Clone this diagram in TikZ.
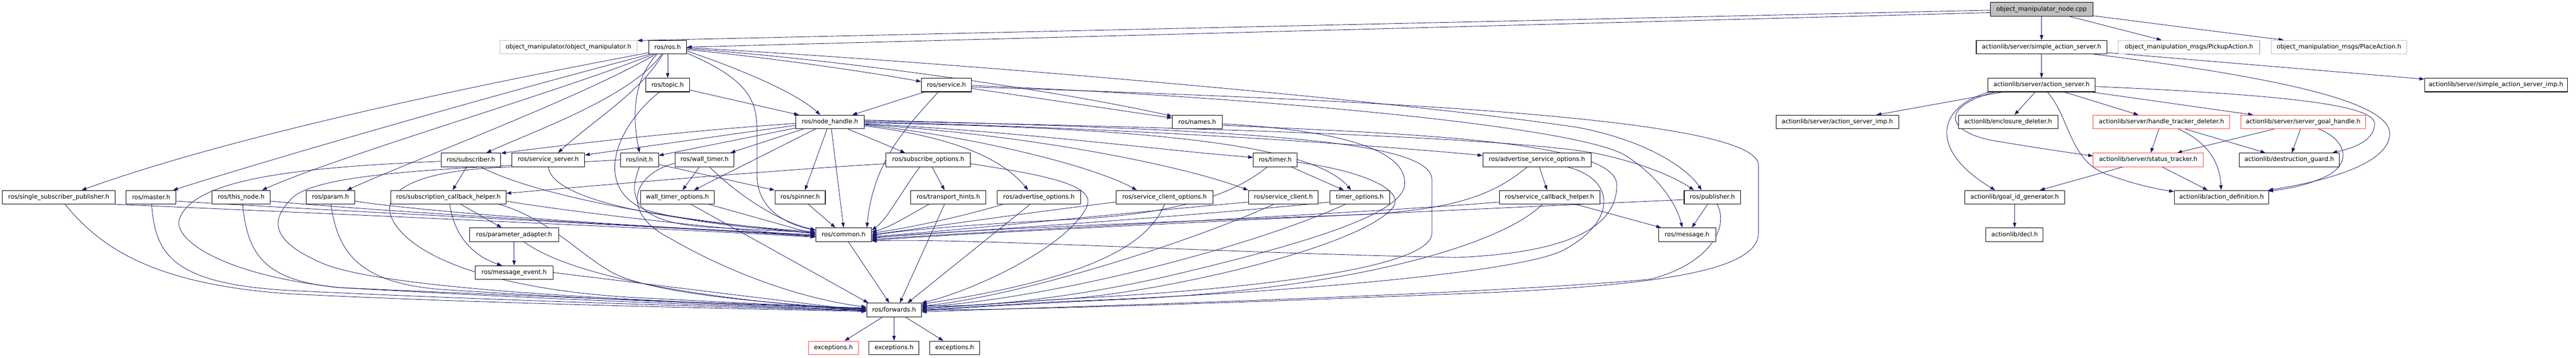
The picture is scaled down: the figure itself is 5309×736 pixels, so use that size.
\documentclass[tikz,border=0pt]{standalone}
\usepackage{fontspec}
\setmainfont{DejaVu Sans}
\usetikzlibrary{arrows.meta,calc}
\pgfdeclarelayer{edges}
\pgfsetlayers{edges,main}
\definecolor{edgec}{HTML}{191970}
\definecolor{redc}{HTML}{FF4040}
\definecolor{grayc}{HTML}{BFBFBF}
\tikzset{
  nb/.style={draw=black, line width=1.1pt, fill=white, minimum height=28pt, inner sep=0pt, font=\fontsize{12.6}{15}\selectfont},
  nred/.style={nb, draw=redc},
  ngray/.style={nb, draw=grayc},
  ncur/.style={nb, fill=grayc},
  dep/.style={draw=edgec, line width=0.9pt, -{Triangle[length=10pt,width=7pt]}}
}
\begin{document}
\begin{tikzpicture}[x=1pt,y=-1pt]
\useasboundingbox (0,0) rectangle (5309,736);
% row 0
\node[ncur, minimum width=211pt] (cpp) at (4207.5,19) {object\_manipulator\_node.cpp};
% row 1
\node[ngray, minimum width=283pt] (objmanip) at (1171.5,97) {object\_manipulator/object\_manipulator.h};
\node[nb, minimum width=78pt] (ros) at (1376,97) {ros/ros.h};
\node[nb, minimum width=269pt] (sas) at (4207.5,97) {actionlib/server/simple\_action\_server.h};
\node[ngray, minimum width=291pt] (pickup) at (4511.5,97) {object\_manipulation\_msgs/PickupAction.h};
\node[ngray, minimum width=279pt] (place) at (4820.5,97) {object\_manipulation\_msgs/PlaceAction.h};
% row 2
\node[nb, minimum width=90pt] (topic) at (1376,175) {ros/topic.h};
\node[nb, minimum width=103pt] (service) at (1950.5,175) {ros/service.h};
\node[nb, minimum width=221pt] (as) at (4207.5,175) {actionlib/server/action\_server.h};
\node[nb, minimum width=294pt] (sasimp) at (5144,175) {actionlib/server/simple\_action\_server\_imp.h};
% row 3
\node[nb, minimum width=141pt] (nh) at (1710.5,251) {ros/node\_handle.h};
\node[nb, minimum width=103pt] (names) at (2467.5,251) {ros/names.h};
\node[nb, minimum width=253pt] (asimp) at (3786.5,251) {actionlib/server/action\_server\_imp.h};
\node[nb, minimum width=205pt] (encl) at (4138.5,251) {actionlib/enclosure\_deleter.h};
\node[nred, minimum width=281pt] (htd) at (4454.5,251) {actionlib/server/handle\_tracker\_deleter.h};
\node[nred, minimum width=257pt] (sgh) at (4746.5,251) {actionlib/server/server\_goal\_handle.h};
% row 4
\node[nb, minimum width=123pt] (subscriber) at (970.5,329) {ros/subscriber.h};
\node[nb, minimum width=150pt] (sserver) at (1130,329) {ros/service\_server.h};
\node[nb, minimum width=78pt] (init) at (1318,329) {ros/init.h};
\node[nb, minimum width=122pt] (walltimer) at (1452,329) {ros/wall\_timer.h};
\node[nb, minimum width=174pt] (subopts) at (1913,329) {ros/subscribe\_options.h};
\node[nb, minimum width=90pt] (timer) at (2628,329) {ros/timer.h};
\node[nb, minimum width=223pt] (aso) at (3167.5,329) {ros/advertise\_service\_options.h};
\node[nred, minimum width=227pt] (st) at (4427.5,329) {actionlib/server/status\_tracker.h};
\node[nb, minimum width=206pt] (dg) at (4718,329) {actionlib/destruction\_guard.h};
% row 5
\node[nb, minimum width=232pt] (ssp) at (121,406) {ros/single\_subscriber\_publisher.h};
\node[nb, minimum width=103pt] (master) at (311.5,406) {ros/master.h};
\node[nb, minimum width=120pt] (thisnode) at (497,406) {ros/this\_node.h};
\node[nb, minimum width=100pt] (param) at (681,406) {ros/param.h};
\node[nb, minimum width=238pt] (sch) at (924,406) {ros/subscription\_callback\_helper.h};
\node[nb, minimum width=152pt] (wto) at (1396,406) {wall\_timer\_options.h};
\node[nb, minimum width=104pt] (spinner) at (1649,406) {ros/spinner.h};
\node[nb, minimum width=155pt] (th) at (1954.5,406) {ros/transport\_hints.h};
\node[nb, minimum width=172pt] (ao) at (2141,406) {ros/advertise\_options.h};
\node[nb, minimum width=200pt] (sco) at (2400,406) {ros/service\_client\_options.h};
\node[nb, minimum width=144pt] (sc) at (2645,406) {ros/service\_client.h};
\node[nb, minimum width=123pt] (to) at (2802.5,406) {timer\_options.h};
\node[nb, minimum width=207pt] (scbh) at (3193.5,406) {ros/service\_callback\_helper.h};
\node[nb, minimum width=116pt] (pub) at (3529,406) {ros/publisher.h};
\node[nb, minimum width=206pt] (gid) at (4152,406) {actionlib/goal\_id\_generator.h};
\node[nb, minimum width=195pt] (ad) at (4578.5,406) {actionlib/action\_definition.h};
% row 6
\node[nb, minimum width=183pt] (pa) at (1059.5,483) {ros/parameter\_adapter.h};
\node[nb, minimum width=115pt] (common) at (1738.5,483) {ros/common.h};
\node[nb, minimum width=118pt] (msg) at (3477,483) {ros/message.h};
\node[nb, minimum width=118pt] (decl) at (4152,483) {actionlib/decl.h};
% row 7
\node[nb, minimum width=161pt] (me) at (1059.5,561) {ros/message\_event.h};
% row 8
\node[nb, minimum width=113pt] (fwd) at (1842.5,638) {ros/forwards.h};
% row 9
\node[nred, minimum width=103pt] (ex1) at (1717.5,716) {exceptions.h};
\node[nb, minimum width=103pt] (ex2) at (1842.5,716) {exceptions.h};
\node[nb, minimum width=103pt] (ex3) at (1967.5,716) {exceptions.h};

\begin{pgfonlayer}{edges}
\fill[white] (0,0) rectangle (5309,736);
% ---------- actionlib edges
\draw[dep] (cpp) -- (sas);
\draw[dep] (cpp) -- (pickup);
\draw[dep] (cpp) -- (place);
\draw[dep] (sas) -- (as);
\draw[dep] (sas) -- (sasimp);
\draw[dep] ($(sas.south east)+(-27,0)$) .. controls (4700,160) and (4925,210) .. (4925,275) .. controls (4925,340) and (4780,375) .. ($(ad.north east)+(-2,0)$);
\draw[dep] (as) -- (asimp);
\draw[dep] (as) -- (encl);
\draw[dep] ($(as.south west)+(3,0)$) .. controls (3990,220) and (3975,310) .. ($(gid.north)+(-40,0)$);
\draw[dep] ($(as.south west)+(15,0)$) .. controls (4010,215) and (4000,265) .. (4100,288) .. controls (4200,305) and (4270,315) .. ($(st.west)+(0,-8)$);
\draw[dep] (as) -- (htd);
\draw[dep] (as) -- (sgh);
\draw[dep] ($(as.south)+(12,0)$) .. controls (4265,240) and (4265,330) .. (4340,358) .. controls (4400,380) and (4440,388) .. ($(ad.north west)+(0,3)$);
\draw[dep] ($(as.east)+(0,3)$) .. controls (4700,195) and (4895,215) .. (4894,255) .. controls (4893,290) and (4850,305) .. ($(dg.north east)+(-15,0)$);
\draw[dep] (htd) -- (st);
\draw[dep] ($(htd.south)+(35,0)$) .. controls (4545,290) and (4575,330) .. ($(ad.north)+(-1,0)$);
\draw[dep] (htd) -- (dg);
\draw[dep] (sgh) -- (st);
\draw[dep] (sgh) -- (dg);
\draw[dep] ($(sgh.south)+(32,0)$) .. controls (4830,285) and (4850,330) .. (4800,360) .. controls (4760,380) and (4720,388) .. ($(ad.north east)+(-2,2)$);
\draw[dep] (st) -- (gid);
\draw[dep] (st) -- (ad);
\draw[dep] (gid) -- (decl);

% ---------- ros.h and top
\draw[dep] ($(cpp.west)+(0,2)$) -- ($(objmanip.north east)+(0,1)$);
\draw[dep] ($(cpp.west)+(0,7)$) -- (ros.east);
\draw[dep] ($(ros.south west)+(0,-3)$) .. controls (900,190) and (450,290) .. ($(ssp.north)+(47,0)$);
\draw[dep] ($(ros.south west)+(3,0)$) .. controls (1000,200) and (550,330) .. ($(master.north)+(45,0)$);
\draw[dep] ($(ros.south west)+(10,0)$) .. controls (1150,190) and (700,320) .. ($(thisnode.north)+(43,0)$);
\draw[dep] ($(ros.south west)+(15,0)$) .. controls (1200,200) and (850,330) .. ($(param.north)+(34,0)$);
\draw[dep] ($(ros.south)+(-12,0)$) .. controls (1300,200) and (1100,270) .. ($(subscriber.north)+(32,0)$);
\draw[dep] ($(ros.south)+(-10,0)$) .. controls (1320,190) and (1220,250) .. ($(sserver.north)+(20,0)$);
\draw[dep] (ros) -- (topic);
\draw[dep] ($(ros.south)+(-22,0)$) .. controls (1300,170) and (1305,250) .. (init.north);
\draw[dep] ($(ros.south east)+(0,-2)$) .. controls (1560,170) and (1560,220) .. (1560,280) -- (1560,360) .. controls (1560,430) and (1620,462) .. ($(common.west)+(0,-9)$);
\draw[dep] ($(ros.east)+(0,8)$) .. controls (1520,140) and (1640,190) .. ($(nh.north)+(-20,0)$);
\draw[dep] ($(ros.east)+(0,5)$) .. controls (1600,120) and (1800,150) .. ($(service.west)+(0,-7)$);
\draw[dep] ($(ros.east)+(0,3)$) .. controls (1700,120) and (2150,180) .. ($(names.west)+(0,-12)$);
\draw[dep] ($(ros.east)+(0,1)$) .. controls (2000,130) and (2900,210) .. (3250,262) .. controls (3400,290) and (3480,350) .. ($(pub.north)+(-22,0)$);

% ---------- service.h
\draw[dep] (service) -- (nh);
\draw[dep] ($(service.south)+(-17,0)$) .. controls (1870,260) and (1800,330) .. ($(common.north east)+(-10,0)$);
\draw[dep] ($(service.east)+(0,7)$) -- ($(names.west)+(0,-8)$);
\draw[dep] ($(service.east)+(0,1)$) .. controls (2600,200) and (3250,260) .. (3350,320) .. controls (3420,365) and (3455,420) .. ($(msg.north)+(-10,0)$);
\draw[dep] ($(service.east)+(0,4)$) .. controls (2800,205) and (3624,240) .. (3624,340) -- (3624,480) .. controls (3624,560) and (3400,590) .. (3000,605) .. controls (2500,625) and (2100,638) .. (fwd.east);

% ---------- names.h
\draw[dep] ($(names.east)+(0,4)$) .. controls (2800,270) and (2900,320) .. (2895,380) .. controls (2890,440) and (2700,500) .. (2400,570) .. controls (2200,615) and (2000,635) .. ($(fwd.east)+(0,-10)$);
\draw[dep] ($(names.east)+(0,7)$) .. controls (2900,275) and (3330,290) .. (3332,380) .. controls (3333,460) and (3250,520) .. (3000,530) .. controls (2500,520) and (2000,490) .. ($(common.east)+(0,13)$);

% ---------- node_handle.h
\draw[dep] ($(nh.west)+(0,3)$) .. controls (1400,270) and (1150,300) .. ($(subscriber.north east)+(0,1)$);
\draw[dep] ($(nh.west)+(0,7)$) -- ($(sserver.east)+(0,-10)$);
\draw[dep] ($(nh.south west)+(0,-2)$) -- ($(init.east)+(0,-9)$);
\draw[dep] ($(nh.south)+(-55,0)$) -- ($(walltimer.north east)+(-8,0)$);
\draw[dep] ($(nh.south)+(-30,0)$) -- ($(wto.north)+(34,0)$);
\draw[dep] ($(nh.south)+(-6,0)$) -- ($(spinner.north)+(10,0)$);
\draw[dep] ($(nh.south)+(3,0)$) -- (common.north);
\draw[dep] ($(nh.south east)+(-34,0)$) -- ($(subopts.north west)+(40,0)$);
\draw[dep] ($(nh.east)+(0,8)$) .. controls (1950,280) and (2060,320) .. ($(ao.north)+(-22,0)$);
\draw[dep] ($(nh.east)+(0,6)$) .. controls (2000,280) and (2250,340) .. ($(sco.north)+(-57,0)$);
\draw[dep] ($(nh.east)+(0,4)$) .. controls (2100,270) and (2400,310) .. ($(timer.west)+(0,-5)$);
\draw[dep] ($(nh.east)+(0,5)$) .. controls (2150,280) and (2450,345) .. (sc.north west);
\draw[dep] ($(nh.east)+(0,2)$) .. controls (2300,262) and (2700,290) .. ($(to.north)+(-18,0)$);
\draw[dep] (nh.east) .. controls (2400,265) and (2900,305) .. ($(aso.west)+(0,-9)$);
\draw[dep] ($(nh.east)+(0,-2)$) .. controls (2500,262) and (3150,285) .. (3300,318) .. controls (3400,340) and (3460,370) .. ($(pub.north)+(-38,0)$);
\draw[dep] ($(nh.east)+(0,-4)$) .. controls (2600,268) and (2951,290) .. (2951,370) -- (2951,480) .. controls (2951,560) and (2500,600) .. (2200,615) .. controls (2050,625) and (1950,632) .. ($(fwd.east)+(0,-2)$);

% ---------- left-side headers
\draw[dep] (subscriber) -- (sch);
\draw[dep] ($(subscriber.south)+(20,0)$) .. controls (1080,390) and (1300,445) .. ($(common.west)+(0,-3)$);
\draw[dep] ($(subscriber.west)+(0,3)$) .. controls (600,345) and (400,370) .. (370,450) .. controls (355,490) and (450,565) .. (700,592) .. controls (1200,615) and (1600,628) .. ($(fwd.west)+(0,-4)$);
\draw[dep] (sserver.south) .. controls (1140,430) and (1500,465) .. ($(common.west)+(0,-6)$);
\draw[dep] ($(sserver.south west)+(5,0)$) .. controls (800,350) and (760,420) .. (840,490) .. controls (920,560) and (1100,600) .. (1300,612) .. controls (1550,625) and (1700,632) .. ($(fwd.west)+(0,-3)$);
\draw[dep] ($(init.south east)+(0,-5)$) -- (spinner.north west);
\draw[dep] (init.south) .. controls (1295,400) and (1300,455) .. (1450,467) .. controls (1550,473) and (1630,476) .. ($(common.west)+(0,-4)$);
\draw[dep] (init.west) .. controls (1000,345) and (650,350) .. (600,410) .. controls (550,460) and (570,500) .. (660,540) .. controls (800,605) and (1500,625) .. ($(fwd.west)+(0,-2)$);
\draw[dep] (walltimer) -- (wto);
\draw[dep] ($(walltimer.south)+(10,0)$) .. controls (1520,400) and (1600,455) .. ($(common.west)+(0,-10)$);
\draw[dep] ($(walltimer.west)+(0,7)$) .. controls (1300,360) and (1280,440) .. (1380,490) .. controls (1500,560) and (1650,615) .. ($(fwd.west)+(0,-6)$);
\draw[dep] ($(wto.south east)+(-12,0)$) -- ($(common.west)+(0,-1)$);
\draw[dep] ($(wto.south)+(28,0)$) -- ($(fwd.north west)+(4,0)$);
\draw[dep] (spinner) -- (common);
\draw[dep] (common) -- (fwd);
\draw[dep] (fwd) -- (ex1);
\draw[dep] (fwd) -- (ex2);
\draw[dep] (fwd) -- (ex3);
\draw[dep] (topic) -- (nh);
\draw[dep] ($(topic.south)+(-17,0)$) .. controls (1270,260) and (1220,385) .. (1330,432) .. controls (1450,465) and (1600,472) .. ($(common.west)+(0,-2)$);
\draw[dep] (sch) -- (pa);
\draw[dep] ($(sch.south)+(3,0)$) .. controls (935,480) and (970,525) .. ($(me.north)+(-25,0)$);
\draw[dep] ($(sch.east)+(0,8)$) .. controls (1200,440) and (1500,472) .. ($(common.west)+(0,3)$);
\draw[dep] ($(sch.south east)+(-15,0)$) .. controls (1130,450) and (1190,520) .. (1260,560) .. controls (1350,610) and (1650,628) .. ($(fwd.west)+(0,-1)$);
\draw[dep] (pa) -- (me);
\draw[dep] ($(pa.south)+(20,0)$) .. controls (1150,550) and (1350,610) .. ($(fwd.west)+(0,1)$);
\draw[dep] (me.east) -- ($(fwd.west)+(0,2)$);
\draw[dep] (ssp.south east) .. controls (800,445) and (1400,472) .. ($(common.west)+(0,5)$);
\draw[dep] ($(ssp.south)+(13,0)$) .. controls (200,500) and (300,585) .. (600,605) .. controls (1000,625) and (1500,635) .. ($(fwd.west)+(0,3)$);
\draw[dep] ($(master.east)+(0,8)$) .. controls (700,435) and (1400,468) .. ($(common.west)+(0,4)$);
\draw[dep] ($(master.south)+(1,0)$) .. controls (320,520) and (350,585) .. (600,598) .. controls (1000,618) and (1500,632) .. ($(fwd.west)+(0,2)$);
\draw[dep] ($(thisnode.east)+(0,8)$) .. controls (800,437) and (1400,470) .. ($(common.west)+(0,2)$);
\draw[dep] ($(thisnode.south)+(3,0)$) .. controls (510,520) and (540,578) .. (700,592) .. controls (1100,615) and (1500,630) .. ($(fwd.west)+(0,1)$);
\draw[dep] ($(param.east)+(0,8)$) .. controls (900,440) and (1400,472) .. (common.west);
\draw[dep] ($(param.south)+(1,0)$) .. controls (696,520) and (740,580) .. (900,595) .. controls (1200,615) and (1550,630) .. (fwd.west);

% ---------- right-side ros headers
\draw[dep] (subopts) -- (th);
\draw[dep] ($(subopts.west)+(0,8)$) .. controls (1600,350) and (1250,380) .. ($(sch.east)+(0,-8)$);
\draw[dep] ($(subopts.south)+(-17,0)$) .. controls (1860,390) and (1830,450) .. ($(common.east)+(0,-9)$);
\draw[dep] ($(subopts.east)+(0,8)$) .. controls (2150,360) and (2260,380) .. (2240,425) .. controls (2200,510) and (2000,600) .. (fwd.north east);
\draw[dep] ($(th.south)+(-40,0)$) .. controls (1870,445) and (1830,470) .. ($(common.east)+(0,-6)$);
\draw[dep] ($(th.south)+(-8,0)$) -- ($(fwd.north)+(12,0)$);
\draw[dep] ($(ao.south west)+(13,0)$) .. controls (1950,455) and (1850,472) .. ($(common.east)+(0,-3)$);
\draw[dep] ($(ao.south)+(-18,0)$) -- ($(fwd.north)+(28,0)$);
\draw[dep] ($(sco.west)+(0,10)$) .. controls (2100,440) and (1900,470) .. (common.east);
\draw[dep] (sco.south) .. controls (2360,520) and (2200,580) .. ($(fwd.east)+(0,-12)$);
\draw[dep] (timer) -- (to);
\draw[dep] ($(timer.south)+(-16,0)$) .. controls (2530,410) and (2400,442) .. (2200,452) .. controls (2000,462) and (1850,475) .. ($(common.east)+(0,2)$);
\draw[dep] ($(timer.east)+(0,5)$) .. controls (2800,350) and (2900,390) .. (2870,428) .. controls (2800,510) and (2400,600) .. (2200,615) .. controls (2050,625) and (1950,632) .. ($(fwd.east)+(0,-4)$);
\draw[dep] ($(sc.west)+(0,10)$) .. controls (2300,440) and (2000,472) .. ($(common.east)+(0,4)$);
\draw[dep] ($(sc.south)+(-20,0)$) .. controls (2450,500) and (2100,610) .. ($(fwd.east)+(0,-8)$);
\draw[dep] ($(to.west)+(0,10)$) .. controls (2400,450) and (2000,475) .. ($(common.east)+(0,6)$);
\draw[dep] ($(to.south)+(-30,0)$) .. controls (2600,500) and (2200,610) .. ($(fwd.east)+(0,-6)$);
\draw[dep] (aso) -- (scbh);
\draw[dep] ($(aso.south)+(-20,0)$) .. controls (3080,400) and (3000,432) .. (2800,442) .. controls (2300,460) and (1900,477) .. ($(common.east)+(0,8)$);
\draw[dep] ($(aso.south)+(62,0)$) .. controls (3335,370) and (3330,460) .. (3218,517) .. controls (3100,570) and (2500,610) .. (2200,620) .. controls (2050,628) and (1950,635) .. (fwd.east);
\draw[dep] (scbh) -- (msg);
\draw[dep] ($(scbh.west)+(0,10)$) .. controls (2800,440) and (2000,477) .. ($(common.east)+(0,10)$);
\draw[dep] ($(scbh.south)+(-15,0)$) .. controls (3100,500) and (2800,595) .. (2300,617) .. controls (2100,626) and (1980,634) .. ($(fwd.east)+(0,2)$);
\draw[dep] (pub) -- (msg);
\draw[dep] ($(pub.west)+(0,5)$) .. controls (3000,432) and (2000,478) .. ($(common.east)+(0,12)$);
\draw[dep] ($(pub.south)+(10,0)$) .. controls (3565,470) and (3520,545) .. (3400,575) .. controls (3000,610) and (2100,634) .. ($(fwd.east)+(0,4)$);
\end{pgfonlayer}
\end{tikzpicture}
\end{document}
